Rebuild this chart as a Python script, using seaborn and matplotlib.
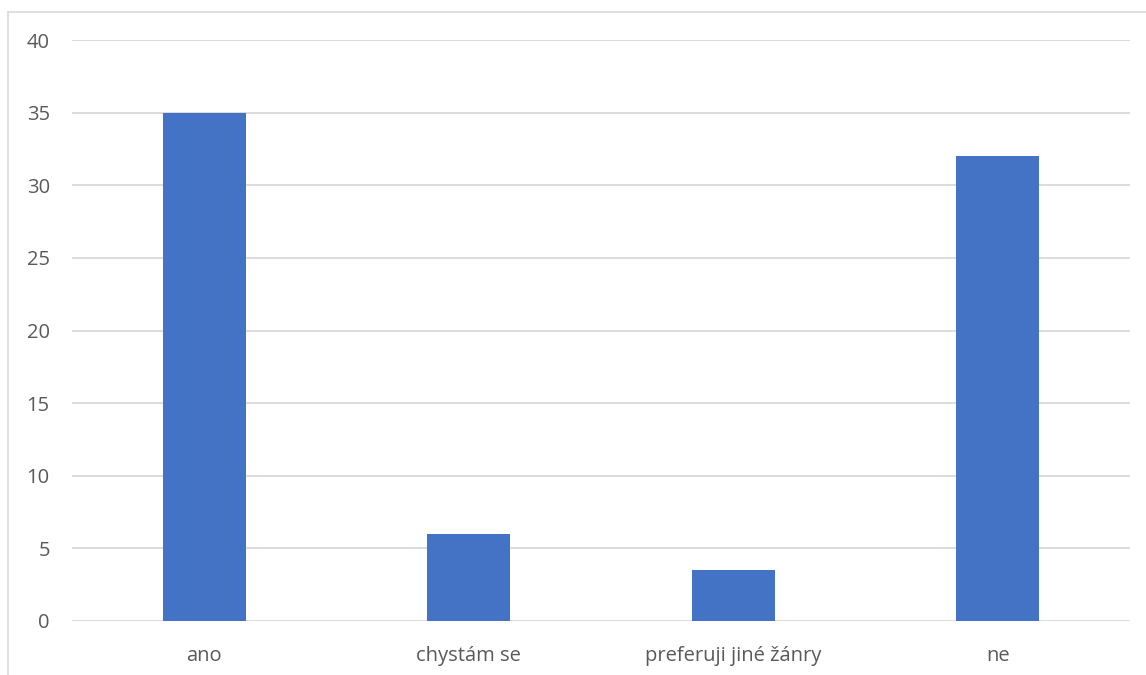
import matplotlib
matplotlib.use("Agg")
import matplotlib.pyplot as plt
import seaborn as sns
import pandas as pd
from matplotlib.lines import Line2D

categories = ["ano", "chystám se", "preferuji jiné žánry", "ne"]
values = [35, 6, 3.5, 32]
yticks = [0, 5, 10, 15, 20, 25, 30, 35, 40]

sns.set_style("white")
plt.rcParams['font.family'] = ['Open Sans', 'DejaVu Sans']

fig = plt.figure(figsize=(11.46, 6.75), dpi=100)
ax = fig.add_axes([72/1146, 54/675, 1058/1146, 581/675])

df = pd.DataFrame({"cat": categories, "val": values})
sns.barplot(data=df, x="cat", y="val", color="#4472C4", saturation=1, width=0.314,
            ax=ax, zorder=3, linewidth=0)

ax.set_ylim(0, 40)
ax.set_xlim(-0.5, 3.5)
ax.set_yticks(yticks)
ax.yaxis.grid(True, color="#d9d9d9", linewidth=1.3, zorder=0)
ax.set_axisbelow(True)
for s in ax.spines.values():
    s.set_visible(False)
ax.tick_params(axis="both", length=0, labelsize=14.5, colors="#595959")
ax.tick_params(axis="y", pad=16)
ax.tick_params(axis="x", pad=18)
ax.set_xlabel("")
ax.set_ylabel("")

x0 = 7.5/1146
y0 = 1 - 11.5/675
fig.add_artist(Line2D([x0, 1], [y0, y0], transform=fig.transFigure, color="#d9d9d9", linewidth=1.2))
fig.add_artist(Line2D([x0, x0], [0, y0], transform=fig.transFigure, color="#d9d9d9", linewidth=1.2))

fig.savefig("out.png", dpi=100)
